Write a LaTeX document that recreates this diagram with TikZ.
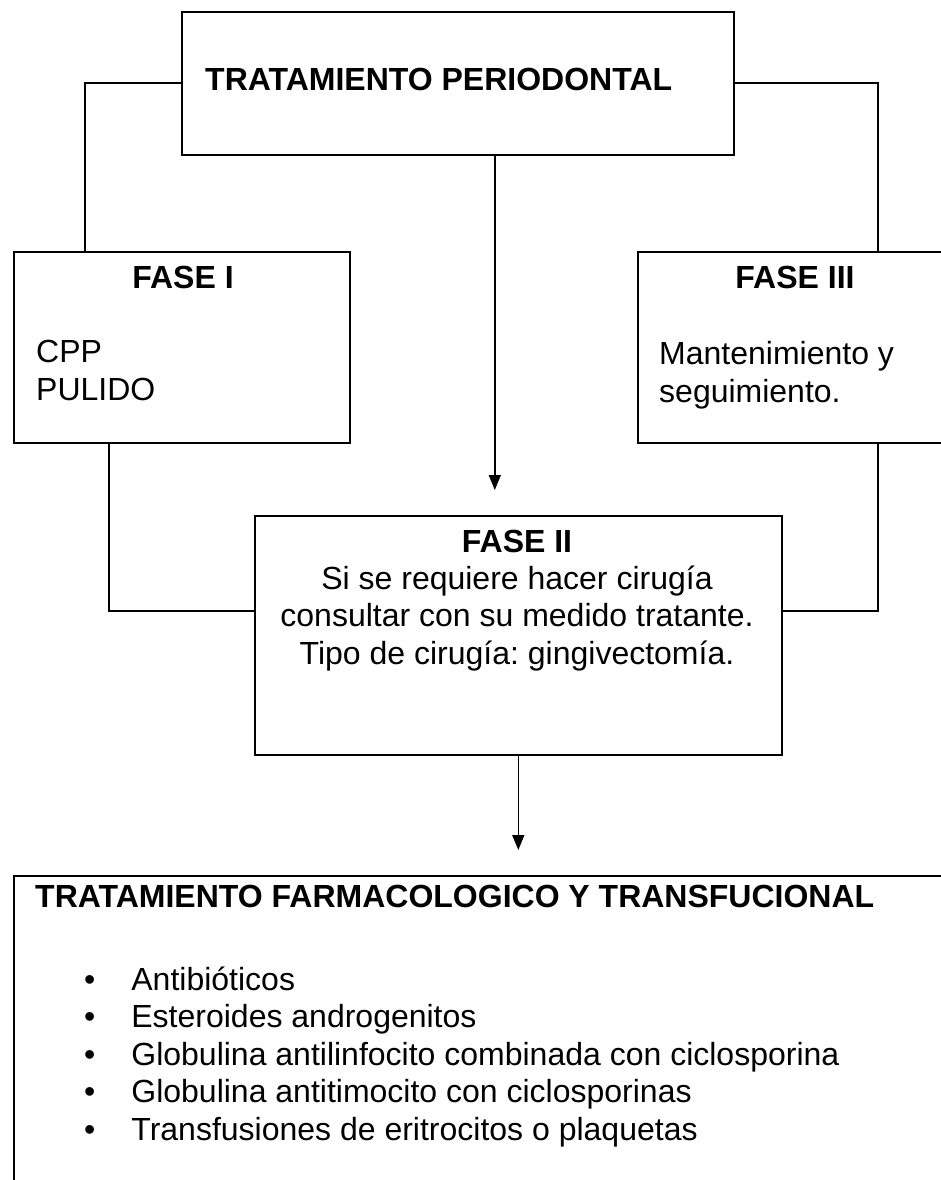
\documentclass[tikz,border=0pt]{standalone}
\usepackage{fontspec}
\setmainfont{Liberation Sans}
\frenchspacing
\usetikzlibrary{arrows.meta, positioning, calc}
\tikzstyle{box} = [rectangle, draw=black, line width=1.6pt, anchor=north west, inner sep=0pt]
\tikzstyle{txt} = [inner sep=0pt, font=\fontsize{32}{37.5}\selectfont]
\tikzstyle{heading} = [inner sep=0pt, font=\fontsize{32}{37.5}\selectfont\bfseries]
\tikzstyle{line} = [line width=1.6pt]
\tikzstyle{arrow} = [line width=1.6pt, -{Triangle[length=15pt,width=12pt]}, shorten >=25pt]

\begin{document}
\begin{tikzpicture}[x=1pt, y=-1pt]
\clip[use as bounding box] (0,0) rectangle (941,1180);

% boxes
\node (periodontal) [box, minimum width=552pt, minimum height=143pt] at (181,11) {};
\node (fase1) [box, minimum width=336pt, minimum height=191pt] at (13,251) {};
\node (fase3) [box, minimum width=320pt, minimum height=191pt] at (637,251) {};
\node (fase2) [box, minimum width=527pt, minimum height=239pt] at (254,515) {};
\node (farmaco) [box, minimum width=960pt, minimum height=360pt] at (13,875) {};

% texts (base = last line)
\node (periodontaltxt) [heading, anchor=base west] at (205,91) {TRATAMIENTO PERIODONTAL};
\node (fase1tit) [heading, anchor=base] at (183,288) {FASE I};
\node (fase1txt) [txt, anchor=base west, align=left] at (36,400) {CPP\\PULIDO};
\node (fase3tit) [heading, anchor=base] at (795,288) {FASE III};
\node (fase3txt) [txt, anchor=base west, align=left] at (659,402) {Mantenimiento y\\seguimiento.};
\node (fase2tit) [heading, anchor=base] at (517,552) {FASE II};
\node (fase2txt) [txt, anchor=base, align=center] at (517,664) {Si se requiere hacer cirugía\\consultar con su medido tratante.\\Tipo de cirugía: gingivectomía.};
\node (farmacotit) [heading, anchor=base west] at (35,907) {TRATAMIENTO FARMACOLOGICO Y TRANSFUCIONAL};
\node (farmacotxt) [txt, anchor=base west, align=left] at (84,1140) {\textbullet\hspace{36pt}Antibióticos\\
\textbullet\hspace{36pt}Esteroides androgenitos\\
\textbullet\hspace{36pt}Globulina antilinfocito combinada con ciclosporina\\
\textbullet\hspace{36pt}Globulina antitimocito con ciclosporinas\\
\textbullet\hspace{36pt}Transfusiones de eritrocitos o plaquetas};

% connectors
\draw [line] (periodontal.west) -| ([xshift=72pt]fase1.north west);
\draw [line] (periodontal.east) -| ([xshift=241pt]fase3.north west);
\draw [arrow] ([xshift=37pt]periodontal.south) -- ([xshift=37pt]periodontal.south |- fase2.north);
\draw [line] ([xshift=96pt]fase1.south west) |- ([yshift=-96pt]fase2.north west);
\draw [line] ([xshift=241pt]fase3.south west) |- ([yshift=-96pt]fase2.north east);
\draw [arrow] (fase2.south) -- (fase2.south |- farmaco.north);

\end{tikzpicture}
\end{document}
